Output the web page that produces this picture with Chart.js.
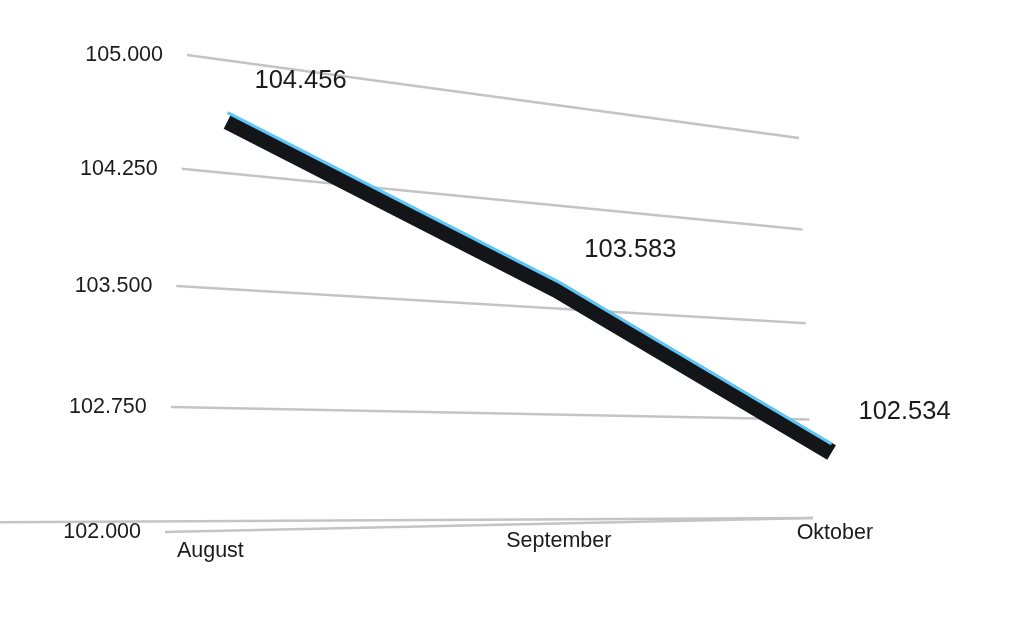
<!DOCTYPE html>
<html>
<head>
<meta charset="utf-8">
<script src="https://cdn.jsdelivr.net/npm/chart.js@4.4.0/dist/chart.umd.min.js"></script>
<style>
  html, body { margin: 0; padding: 0; background: #ffffff; }
  #wrap { width: 1024px; height: 637px; position: relative; }
  canvas { display: block; }
</style>
</head>
<body>
<div id="wrap"><canvas id="c" width="1024" height="637"></canvas></div>
<script>
// ---- data ----
const categories = ['August', 'September', 'Oktober'];
const values = [104456, 103583, 102534];
const yTicks = [102000, 102750, 103500, 104250, 105000];
const yMin = 102000;
const yMax = 105000;

// German thousands separator
function fmt(n) {
  return String(Math.round(n)).replace(/\B(?=(\d{3})+(?!\d))/g, '.');
}

// ---- perspective view (layout only) ----
const VIEW = {
  grid:   [[187, 55], [799, 138], [813, 518], [165, 532]],
  ribbon: [[188, 33], [799, 141], [813, 522], [166, 507]],
  catStart: 0.057,
  catSpan: 0.985,
  catLabelQ: 1.04,
  axisFrom: [-0.25, 0.9738],
  axisTo: [1, 1],
  tickGap: 24,
  valueDx: 73,
  valueDy: -40,
  cyanLift: 8.5
};

function makeHomography(quad) {
  const [[x0, y0], [x1, y1], [x2, y2], [x3, y3]] = quad;
  const dx1 = x1 - x2, dx2 = x3 - x2, dx3 = x0 - x1 + x2 - x3;
  const dy1 = y1 - y2, dy2 = y3 - y2, dy3 = y0 - y1 + y2 - y3;
  const det = dx1 * dy2 - dx2 * dy1;
  const g = (dx3 * dy2 - dx2 * dy3) / det;
  const h = (dx1 * dy3 - dx3 * dy1) / det;
  const a = x1 - x0 + g * x1, b = x3 - x0 + h * x3, c = x0;
  const d = y1 - y0 + g * y1, e = y3 - y0 + h * y3, f = y0;
  return (t, q) => {
    const w = g * t + h * q + 1;
    return { x: (a * t + b * q + c) / w, y: (d * t + e * q + f) / w };
  };
}

const GRID = makeHomography(VIEW.grid);
const RIBBON = makeHomography(VIEW.ribbon);

function planeT(chart, index) {
  const xs = chart.scales.x;
  const p0 = xs.getPixelForValue(0);
  const p1 = xs.getPixelForValue(categories.length - 1);
  const u = (xs.getPixelForValue(index) - p0) / (p1 - p0);
  return VIEW.catStart + VIEW.catSpan * u;
}
function planeQ(chart, value) {
  const ys = chart.scales.y;
  const top = ys.getPixelForValue(yMax);
  const bot = ys.getPixelForValue(yMin);
  return (ys.getPixelForValue(value) - top) / (bot - top);
}

const TEXT = '#1b1b1b';
const FONT = "'Liberation Sans', Arial, Helvetica, sans-serif";

const perspectivePlugin = {
  id: 'perspective',
  afterDatasetsUpdate(chart) {
    chart.data.datasets.forEach((ds, di) => {
      const meta = chart.getDatasetMeta(di);
      const lift = di === 1 ? VIEW.cyanLift : 0;
      meta.data.forEach((pt, i) => {
        const p = RIBBON(planeT(chart, i), planeQ(chart, ds.data[i]));
        pt.x = p.x;
        pt.y = p.y - lift;
      });
      if (meta.dataset) { meta.dataset._path = undefined; }
    });
  },
  beforeDatasetsDraw(chart) {
    const ctx = chart.ctx;
    ctx.save();
    ctx.strokeStyle = '#c4c4c4';
    ctx.lineWidth = 2.5;
    ctx.lineCap = 'butt';

    // x axis base line
    const a0 = GRID(VIEW.axisFrom[0], VIEW.axisFrom[1]);
    const a1 = GRID(VIEW.axisTo[0], VIEW.axisTo[1]);
    ctx.beginPath(); ctx.moveTo(a0.x, a0.y); ctx.lineTo(a1.x, a1.y); ctx.stroke();

    // horizontal grid lines + y tick labels
    ctx.fillStyle = TEXT;
    ctx.font = '21.5px ' + FONT;
    ctx.textAlign = 'right';
    ctx.textBaseline = 'middle';
    yTicks.forEach(v => {
      const q = planeQ(chart, v);
      const l = GRID(0, q), r = GRID(1, q);
      ctx.beginPath(); ctx.moveTo(l.x, l.y); ctx.lineTo(r.x, r.y); ctx.stroke();
      ctx.fillText(fmt(v), l.x - VIEW.tickGap, l.y);
    });

    // category labels
    ctx.textAlign = 'center';
    categories.forEach((c, i) => {
      const p = GRID(planeT(chart, i), VIEW.catLabelQ);
      ctx.fillText(c, p.x, p.y);
    });
    ctx.restore();
  },
  afterDatasetsDraw(chart) {
    const ctx = chart.ctx;
    const meta = chart.getDatasetMeta(0);
    ctx.save();
    ctx.fillStyle = TEXT;
    ctx.font = '25.5px ' + FONT;
    ctx.textAlign = 'center';
    ctx.textBaseline = 'middle';
    meta.data.forEach((pt, i) => {
      ctx.fillText(fmt(values[i]), pt.x + VIEW.valueDx, pt.y + VIEW.valueDy);
    });
    ctx.restore();
  }
};

new Chart(document.getElementById('c'), {
  type: 'line',
  data: {
    labels: categories,
    datasets: [
      {
        data: values,
        order: 2,
        borderColor: '#131519',
        borderWidth: 17,
        borderCapStyle: 'butt',
        borderJoinStyle: 'miter',
        pointRadius: 0,
        tension: 0,
        fill: false,
        clip: false
      },
      {
        data: values,
        order: 1,
        borderColor: '#5ac8fa',
        borderWidth: 3,
        borderCapStyle: 'butt',
        borderJoinStyle: 'miter',
        pointRadius: 0,
        tension: 0,
        fill: false,
        clip: false
      }
    ]
  },
  options: {
    responsive: false,
    animation: false,
    events: [],
    layout: { padding: 0 },
    plugins: { legend: { display: false }, tooltip: { enabled: false } },
    scales: {
      x: { display: false, offset: false },
      y: { display: false, min: yMin, max: yMax }
    }
  },
  plugins: [perspectivePlugin]
});
</script>
</body>
</html>
